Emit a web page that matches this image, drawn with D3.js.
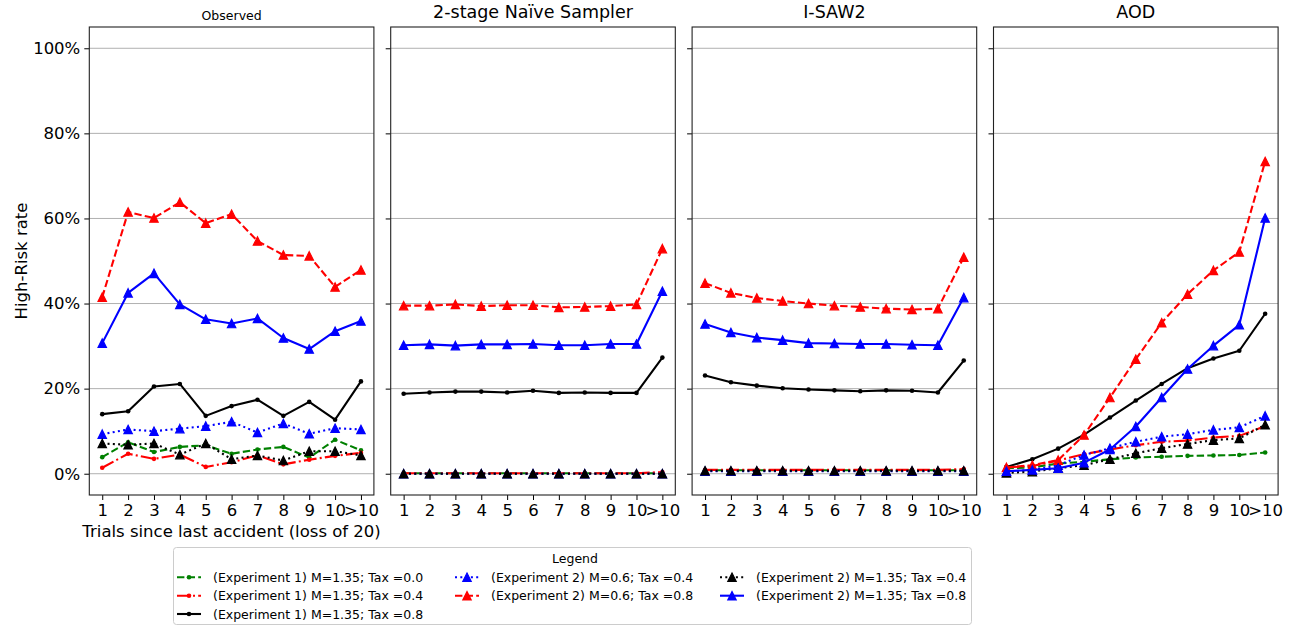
<!DOCTYPE html>
<html>
<head>
<meta charset="utf-8">
<script src="https://cdn.jsdelivr.net/npm/d3@7"></script>
<style>
  body { margin: 0; background: #fff; }
  text { font-family: "DejaVu Sans", sans-serif; fill: #000; }
</style>
</head>
<body>
<div id="chart"></div>
<script>
// categories on the x axis and the four panels
var categories = ['1', '2', '3', '4', '5', '6', '7', '8', '9', '10', '>10'];
var panelTitles = ['Observed', '2-stage Naïve Sampler', 'I-SAW2', 'AOD'];
var yTicks = [0, 20, 40, 60, 80, 100];

// high-risk rate (%) per series, one row per panel (Observed, Naive, I-SAW2, AOD)
var exp1M135Tax00 = [
  [3.9, 7.4, 5.1, 6.3, 6.7, 4.7, 5.7, 6.3, 3.8, 8.0, 5.5],
  [0.1, 0.1, 0.1, 0.1, 0.1, 0.1, 0.1, 0.1, 0.1, 0.1, 0.1],
  [0.8, 0.8, 0.8, 0.8, 0.8, 0.8, 0.8, 0.8, 0.8, 0.8, 0.8],
  [1.3, 1.5, 2.4, 2.8, 3.4, 3.8, 4.0, 4.2, 4.3, 4.4, 5.0]
];
var exp1M135Tax04 = [
  [1.4, 4.7, 3.5, 4.5, 1.6, 2.7, 4.3, 2.2, 3.3, 4.2, 4.9],
  [0.1, 0.1, 0.1, 0.1, 0.1, 0.1, 0.1, 0.1, 0.1, 0.1, 0.4],
  [0.9, 0.9, 0.9, 0.9, 0.9, 0.9, 0.9, 0.9, 0.9, 0.9, 1.1],
  [1.5, 1.8, 3.1, 4.6, 5.7, 6.7, 7.5, 7.8, 8.5, 8.9, 11.2]
];
var exp1M135Tax08 = [
  [14.0, 14.7, 20.5, 21.1, 13.6, 15.9, 17.4, 13.6, 16.9, 12.7, 21.7],
  [18.8, 19.1, 19.3, 19.3, 19.1, 19.5, 19.0, 19.1, 19.0, 19.0, 27.3],
  [23.1, 21.5, 20.7, 20.1, 19.8, 19.6, 19.4, 19.6, 19.5, 19.1, 26.6],
  [1.6, 3.4, 5.9, 9.2, 13.2, 17.2, 21.1, 24.8, 27.1, 28.9, 37.6]
];
var exp2M06Tax04 = [
  [9.3, 10.4, 10.0, 10.6, 11.2, 12.2, 9.7, 11.8, 9.4, 10.7, 10.4],
  [0.0, 0.0, 0.0, 0.0, 0.0, 0.0, 0.0, 0.0, 0.0, 0.0, 0.0],
  [0.6, 0.6, 0.6, 0.6, 0.6, 0.6, 0.6, 0.6, 0.6, 0.6, 0.6],
  [0.5, 0.9, 2.0, 4.4, 6.0, 7.5, 8.7, 9.3, 10.3, 10.9, 13.6]
];
var exp2M06Tax08 = [
  [41.5, 61.5, 60.1, 63.8, 58.9, 61.0, 54.7, 51.4, 51.2, 43.9, 47.9],
  [39.5, 39.5, 39.8, 39.4, 39.6, 39.6, 39.1, 39.2, 39.4, 39.8, 52.9],
  [44.8, 42.5, 41.3, 40.6, 40.0, 39.5, 39.2, 38.8, 38.6, 38.8, 50.9],
  [1.5, 2.0, 3.2, 9.1, 17.9, 26.9, 35.5, 42.2, 47.8, 52.1, 73.4]
];
var exp2M135Tax04 = [
  [7.1, 6.8, 7.1, 4.5, 7.1, 3.4, 4.3, 3.1, 5.3, 5.3, 4.3],
  [0.0, 0.0, 0.0, 0.0, 0.0, 0.0, 0.0, 0.0, 0.0, 0.0, 0.0],
  [0.7, 0.7, 0.7, 0.7, 0.7, 0.7, 0.7, 0.7, 0.7, 0.7, 0.7],
  [0.2, 0.5, 1.3, 2.0, 3.4, 4.8, 6.0, 7.0, 7.9, 8.3, 11.5]
];
var exp2M135Tax08 = [
  [30.7, 42.5, 47.1, 39.8, 36.3, 35.3, 36.5, 31.9, 29.3, 33.5, 35.9],
  [30.2, 30.4, 30.1, 30.4, 30.4, 30.5, 30.2, 30.2, 30.5, 30.5, 42.9],
  [35.2, 33.2, 32.0, 31.4, 30.7, 30.6, 30.5, 30.5, 30.3, 30.2, 41.4],
  [0.6, 0.9, 1.3, 2.6, 5.7, 11.1, 17.9, 24.6, 30.1, 35.0, 60.1]
];

var series = [
  {label: '(Experiment 1) M=1.35; Tax =0.0', values: exp1M135Tax00, color: '#008000', dash: '7.4,3.2', marker: 'dot'},
  {label: '(Experiment 1) M=1.35; Tax =0.4', values: exp1M135Tax04, color: '#ff0000', dash: '12.8,3.2,2,3.2', marker: 'dot'},
  {label: '(Experiment 1) M=1.35; Tax =0.8', values: exp1M135Tax08, color: '#000000', dash: null, marker: 'dot'},
  {label: '(Experiment 2) M=0.6; Tax =0.4', values: exp2M06Tax04, color: '#0000ff', dash: '2,3.3', marker: 'tri'},
  {label: '(Experiment 2) M=0.6; Tax =0.8', values: exp2M06Tax08, color: '#ff0000', dash: '7.4,3.2', marker: 'tri'},
  {label: '(Experiment 2) M=1.35; Tax =0.4', values: exp2M135Tax04, color: '#000000', dash: '2,3.3', marker: 'tri'},
  {label: '(Experiment 2) M=1.35; Tax =0.8', values: exp2M135Tax08, color: '#0000ff', dash: null, marker: 'tri'}
];

var frame = {width: 1290, height: 627},
  panel = {left: 89.3, top: 27, width: 284.6, height: 468, step: 301.4},
  x = d3.scalePoint().domain(categories).range([0, panel.width]).padding(0.5),
  y = d3.scaleLinear().domain([-5, 105]).range([panel.height, 0]),
  svg,
  line;

svg = d3.select('#chart').append('svg')
  .attr('width', frame.width)
  .attr('height', frame.height);

svg.append('rect')
  .attr('width', frame.width)
  .attr('height', frame.height)
  .attr('fill', '#fff');

line = d3.line()
  .x(function (d, i) { return x(categories[i]); })
  .y(function (d) { return y(d); });

function drawMarker(sel, kind, color) {
  if (kind === 'tri') {
    sel.append('path')
      .attr('d', 'M0,-4.2L4.2,4.2L-4.2,4.2Z')
      .attr('fill', color)
      .attr('stroke', color)
      .attr('stroke-width', 1.2)
      .attr('stroke-linejoin', 'miter');
  } else {
    sel.append('circle')
      .attr('r', 2.3)
      .attr('fill', color);
  }
}

panelTitles.forEach(function (title, p) {
  var g = svg.append('g')
    .attr('transform', 'translate(' + (panel.left + p * panel.step) + ',' + panel.top + ')');

  // grid
  g.append('g').selectAll('line')
    .data(yTicks)
    .enter()
    .append('line')
    .attr('x1', 0)
    .attr('x2', panel.width)
    .attr('y1', function (d) { return y(d); })
    .attr('y2', function (d) { return y(d); })
    .attr('stroke', '#b0b0b0')
    .attr('stroke-width', 1);

  // y axis
  var yAxis = g.append('g')
    .call(d3.axisLeft(y).tickValues(yTicks).tickSize(5).tickPadding(4)
      .tickFormat(function (d) { return p === 0 ? d + '%' : ''; }));
  yAxis.select('.domain').remove();
  yAxis.selectAll('line').attr('stroke', '#000').attr('stroke-width', 1);
  yAxis.selectAll('text')
    .attr('font-size', '16.5px')
    .attr('font-family', '"DejaVu Sans", sans-serif');

  // x axis
  var xAxis = g.append('g')
    .attr('transform', 'translate(0,' + panel.height + ')')
    .call(d3.axisBottom(x).tickSize(5).tickPadding(4));
  xAxis.select('.domain').remove();
  xAxis.selectAll('line').attr('stroke', '#000').attr('stroke-width', 1);
  xAxis.selectAll('text')
    .attr('font-size', '16.5px')
    .attr('font-family', '"DejaVu Sans", sans-serif');

  // series
  series.forEach(function (s) {
    g.append('path')
      .attr('d', line(s.values[p]))
      .attr('fill', 'none')
      .attr('stroke', s.color)
      .attr('stroke-width', 2.1)
      .attr('stroke-dasharray', s.dash)
      .attr('stroke-linejoin', 'round');

    g.append('g').selectAll('g')
      .data(s.values[p])
      .enter()
      .append('g')
      .attr('transform', function (d, i) {
        return 'translate(' + x(categories[i]) + ',' + y(d) + ')';
      })
      .each(function () { drawMarker(d3.select(this), s.marker, s.color); });
  });

  // frame
  g.append('rect')
    .attr('width', panel.width)
    .attr('height', panel.height)
    .attr('fill', 'none')
    .attr('stroke', '#222')
    .attr('stroke-width', 1.1);

  g.append('text')
    .attr('x', panel.width / 2)
    .attr('y', p === 0 ? -7 : -9)
    .attr('text-anchor', 'middle')
    .attr('font-size', p === 0 ? '12.5px' : '17.5px')
    .text(title);
});

// axis labels
svg.append('text')
  .attr('x', panel.left + panel.width / 2)
  .attr('y', 537)
  .attr('text-anchor', 'middle')
  .attr('font-size', '16.5px')
  .text('Trials since last accident (loss of 20)');

svg.append('text')
  .attr('transform', 'translate(27,' + (panel.top + panel.height / 2) + ') rotate(-90)')
  .attr('text-anchor', 'middle')
  .attr('font-size', '16.5px')
  .text('High-Risk rate');

// legend
var legend = svg.append('g');
legend.append('rect')
  .attr('x', 173.5)
  .attr('y', 547.5)
  .attr('width', 798)
  .attr('height', 77)
  .attr('rx', 3)
  .attr('fill', '#fff')
  .attr('stroke', '#cccccc')
  .attr('stroke-width', 1);

legend.append('text')
  .attr('x', 575)
  .attr('y', 563)
  .attr('text-anchor', 'middle')
  .attr('font-size', '12.5px')
  .text('Legend');

var legendCols = [177, 455, 720],
  legendRows = [577.3, 595.7, 614];

series.forEach(function (s, i) {
  var col = i < 3 ? 0 : (i < 5 ? 1 : 2),
    row = i < 3 ? i : (i < 5 ? i - 3 : i - 5),
    item = legend.append('g')
      .attr('transform', 'translate(' + legendCols[col] + ',' + legendRows[row] + ')');

  item.append('line')
    .attr('x1', 0)
    .attr('x2', 24)
    .attr('stroke', s.color)
    .attr('stroke-width', 2.1)
    .attr('stroke-dasharray', s.dash);

  drawMarker(item.append('g').attr('transform', 'translate(12,0)'), s.marker, s.color);

  item.append('text')
    .attr('x', 36)
    .attr('y', 4.5)
    .attr('font-size', '12.5px')
    .text(s.label);
});
</script>
</body>
</html>
